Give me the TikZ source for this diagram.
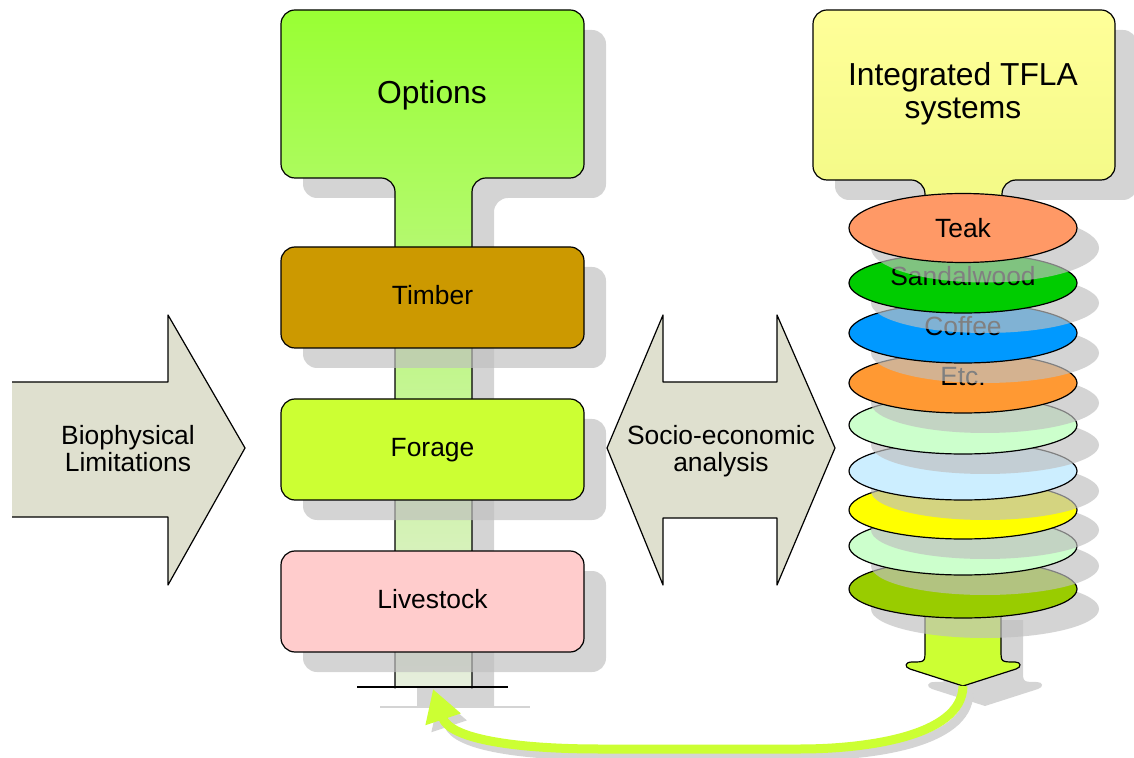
\documentclass[tikz,border=0pt]{standalone}
\usepackage{fontspec}
\setmainfont{Liberation Sans}
\usetikzlibrary{shapes.geometric,shadows,arrows.meta,calc}

\definecolor{optgreen}{HTML}{99FF33}
\definecolor{stempale}{HTML}{E6EEDD}
\definecolor{timbercol}{HTML}{CC9900}
\definecolor{foragecol}{HTML}{CCFF33}
\definecolor{livecol}{HTML}{FFCCCC}
\definecolor{tflatop}{HTML}{FFFF99}
\definecolor{tflabot}{HTML}{F2F985}
\definecolor{arrowgray}{HTML}{DFE0CF}
\definecolor{limecol}{HTML}{CCFF33}
\definecolor{shadowgray}{HTML}{D4D4D4}
\definecolor{teakcol}{HTML}{FF9966}
\definecolor{sandalcol}{HTML}{00CC00}
\definecolor{coffeecol}{HTML}{0099FF}
\definecolor{etccol}{HTML}{FF9933}
\definecolor{mintcol}{HTML}{CCFFCC}
\definecolor{skycol}{HTML}{CCEEFF}
\definecolor{yellowcol}{HTML}{FFFF00}
\definecolor{olivecol}{HTML}{99CC00}

\newcommand{\boxfont}{\fontsize{13.2}{13.5}\selectfont}
\newcommand{\headfont}{\fontsize{15.9}{16.5}\selectfont}

% the Options column (box, stem and foot)
\newcommand{\optionscolumn}[1]{%
  \path[#1, rounded corners=7pt] (384,687) .. controls (395,687) .. (395,674) -- (395,178)
    -- (281,178) -- (281,10) -- (584,10) -- (584,178) -- (472,178) -- (472,674)
    .. controls (472,687) .. (483,687) -- cycle;}
% the TFLA column (box and neck)
\newcommand{\tflacolumn}[1]{%
  \path[#1, rounded corners=7pt] (925,215) -- (925,180) -- (813,180) -- (813,10)
    -- (1115,10) -- (1115,180) -- (1002,180) -- (1002,215) -- cycle;}
% the stem under the stack
\newcommand{\systemstem}[1]{%
  \path[#1] (925,600) -- (925,650) .. controls (925,662) .. (912,662)
    .. controls (905,662) and (904,667) .. (910,669) -- (963,686) -- (1016,669)
    .. controls (1022,667) and (1021,662) .. (1015,662) .. controls (1001,662) .. (1001,650)
    -- (1001,600) -- cycle;}

\tikzset{
  castshadow/.style={fill=black!25, opacity=0.67},
  optbox/.style={draw=black, line width=0.6pt, rounded corners=7pt,
    minimum width=151.5pt, minimum height=50.5pt, font=\boxfont,
    text height=9.6pt, text depth=2.8pt,
    drop shadow={shadow xshift=11pt, shadow yshift=-10pt, fill=black!25, opacity=0.67}},
  layer/.style={ellipse, draw=black, line width=0.6pt, inner sep=0pt,
    minimum width=114pt, minimum height=29pt, font=\boxfont,
    drop shadow={shadow xshift=11pt, shadow yshift=-10pt, fill=black!25, opacity=0.67}},
  raised/.style={minimum height=30pt, text height=9.6pt, text depth=7pt},
  bigarrow/.style={draw=black, line width=0.6pt},
  looparrow/.style={line width=4.5pt, limecol, -{Triangle[length=16pt, width=17.5pt]}},
  loopshadow/.style={line width=4.5pt, shadowgray, -{Triangle[length=16pt, width=17.5pt]}}
}

\begin{document}
\begin{tikzpicture}[x=0.5pt, y=-0.5pt, line join=round]
\useasboundingbox (0,0) rectangle (1134,758);

% Options column
\optionscolumn{castshadow, shift={(22,20)}}
\draw[shadowgray, line width=0.6pt] (380,707) -- (530,707);
\optionscolumn{draw=black, line width=0.6pt, top color=optgreen, bottom color=stempale}
\draw[line width=0.6pt] (357,687) -- (508,687);
\node[font=\headfont] (options) at (432,95) {Options};

\node[optbox, fill=timbercol] (timber) at (432.5,297.5) {Timber};
\node[optbox, fill=foragecol] (forage) at (432.5,449.5) {Forage};
\node[optbox, fill=livecol] (livestock) at (432.5,601.5) {Livestock};

% Biophysical arrow
\fill[arrowgray] (12,382) -- (168,382) -- (168,315) -- (245,448) -- (168,585) -- (168,517) -- (12,517) -- cycle;
\draw[bigarrow] (12,382) -- (168,382) -- (168,315) -- (245,448) -- (168,585) -- (168,517) -- (12,517);
\node[font=\boxfont, align=center] (biophys) at (128,449) {Biophysical\\Limitations};

% Socio-economic double arrow
\path[bigarrow, fill=arrowgray] (607,448) -- (663,315) -- (663,382) -- (777,382) -- (777,315) -- (835,448)
  -- (777,585) -- (777,518) -- (663,518) -- (663,585) -- cycle;
\node[font=\boxfont, align=center] (socio) at (721,451) {Socio-economic\\analysis};

% TFLA column
\tflacolumn{castshadow, shift={(22,20)}}
\tflacolumn{draw=black, line width=0.6pt, top color=tflatop, bottom color=tflabot}
\node[font=\headfont, align=center] (tfla) at (963,94) {Integrated TFLA\\systems};

\systemstem{castshadow, shift={(22,20)}}
\systemstem{draw=black, line width=0.6pt, fill=limecol}

% stack of layers, bottom first
\node[layer, fill=olivecol] (olive) at (963,589) {};
\node[layer, fill=mintcol] (mintb) at (963,546) {};
\node[layer, fill=yellowcol] (yellow) at (963,510) {};
\node[layer, fill=skycol] (sky) at (963,471) {};
\node[layer, fill=mintcol] (minta) at (963,425) {};
\node[layer, raised, fill=etccol] (etc) at (963,383) {Etc.};
\node[layer, raised, fill=coffeecol] (coffee) at (963,333) {Coffee};
\node[layer, raised, fill=sandalcol] (sandal) at (963,283) {Sandalwood};
\node[layer, fill=teakcol, minimum height=34.5pt] (teak) at (963,228) {Teak};

% feedback loop
\coordinate (systip) at (963,686);
\coordinate (optbase) at (433,689);
\draw[loopshadow] ([shift={(6,7)}]systip) .. controls +(-1,52) and +(60,0) .. (806,756) -- (606,756)
  .. controls +(-80,0) and +(17,51) .. ([shift={(6,7)}]optbase);
\draw[looparrow] (systip) .. controls +(-1,52) and +(60,0) .. (800,749) -- (600,749)
  .. controls +(-80,0) and +(17,51) .. (optbase);
\end{tikzpicture}
\end{document}
